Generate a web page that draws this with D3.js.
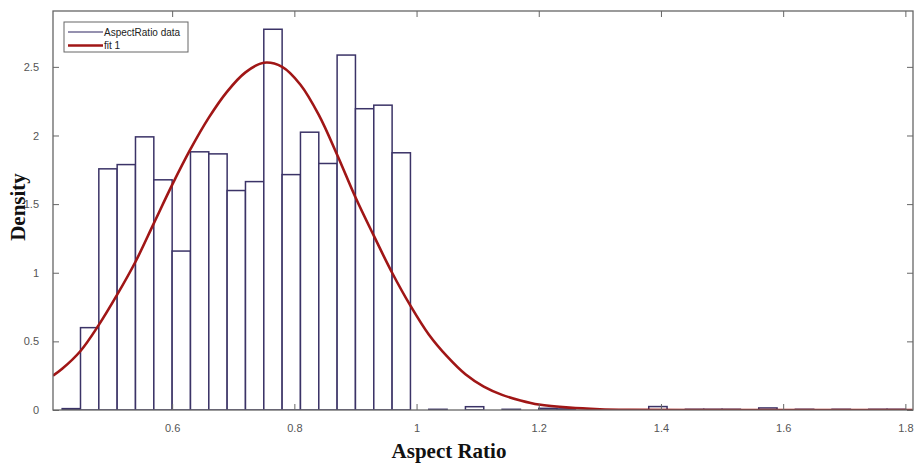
<!DOCTYPE html>
<html>
<head>
<meta charset="utf-8">
<script src="https://cdn.jsdelivr.net/npm/d3@7"></script>
<style>
    body { margin: 0; background: #fff; }
    .axis text { font-family: "Liberation Sans", Arial, sans-serif; font-size: 11px; fill: #555; }
    .axis line { stroke: #666; }
    .axis path { display: none; }
    .axis-title { font-family: "Liberation Serif", "Times New Roman", serif; font-weight: bold; font-size: 21px; fill: #111; }
</style>
</head>
<body>
<svg id="chart"></svg>
<script>
// histogram bins (left edges) and densities
const binStart = 0.42;
const binWidth = 0.03;
const densities = [
    0.01, 0.60, 1.757, 1.788, 1.99, 1.677, 1.158, 1.881, 1.866, 1.599,
    1.664, 2.774, 1.715, 2.024, 1.796, 2.586, 2.195, 2.221, 1.874, 0,
    0.005, 0, 0.024, 0, 0.005, 0, 0.012, 0.008, 0, 0,
    0, 0, 0.025, 0, 0.005, 0.005, 0.005, 0, 0.015, 0,
    0.005, 0, 0.005, 0, 0.005, 0.005
];

// points read along the "fit 1" curve
const fitX = [0.405, 0.42, 0.45, 0.48, 0.51, 0.54, 0.57, 0.60, 0.63, 0.66, 0.69, 0.72, 0.75,
    0.78, 0.81, 0.84, 0.87, 0.90, 0.93, 0.96, 0.99, 1.02, 1.05, 1.08, 1.11, 1.14, 1.17, 1.20,
    1.25, 1.30, 1.35, 1.45, 1.812];
const fitY = [0.25, 0.30, 0.43, 0.62, 0.84, 1.08, 1.36, 1.64, 1.90, 2.13, 2.32, 2.46, 2.53,
    2.50, 2.37, 2.15, 1.86, 1.55, 1.27, 1.00, 0.76, 0.55, 0.39, 0.26, 0.17, 0.11, 0.07, 0.04,
    0.017, 0.006, 0.002, 0, 0];

const xTicks = [0.6, 0.8, 1, 1.2, 1.4, 1.6, 1.8];
const yTicks = [0, 0.5, 1, 1.5, 2, 2.5];
const legendLabels = ['AspectRatio data', 'fit 1'];

const width = 917, height = 466;
const margin = { top: 11, right: 4, bottom: 56, left: 53 };
const innerW = width - margin.left - margin.right;
const innerH = height - margin.top - margin.bottom;

const svg = d3.select('#chart').attr('width', width).attr('height', height);
const chart = svg.append('g').attr('transform', `translate(${margin.left},${margin.top})`);

const xScale = d3.scaleLinear().domain([0.405, 1.8125]).range([0, innerW]);
const yScale = d3.scaleLinear().domain([0, 2.907]).range([innerH, 0]);

svg.append('defs').append('clipPath').attr('id', 'clip')
    .append('rect').attr('width', innerW).attr('height', innerH);

const bins = densities.map((d, i) => ({ x0: binStart + i * binWidth, x1: binStart + (i + 1) * binWidth, v: d }));

const marks = chart.append('g').attr('clip-path', 'url(#clip)');

marks.selectAll('.bar')
    .data(bins)
    .join('rect')
    .attr('class', 'bar')
    .attr('x', d => xScale(d.x0))
    .attr('width', d => xScale(d.x1) - xScale(d.x0))
    .attr('y', d => yScale(d.v))
    .attr('height', d => yScale(0) - yScale(d.v))
    .attr('fill', '#fff')
    .attr('stroke', '#3b3367')
    .attr('stroke-width', 1.5);

const fitData = fitX.map((x, i) => ({ x: x, y: fitY[i] }));
const line = d3.line()
    .x(d => xScale(d.x))
    .y(d => yScale(d.y))
    .curve(d3.curveCatmullRom.alpha(0.5));

marks.append('path')
    .datum(fitData)
    .attr('d', line)
    .attr('fill', 'none')
    .attr('stroke', '#a01616')
    .attr('stroke-width', 2.6);

// axes with inward ticks on all four sides
chart.append('g').attr('class', 'axis')
    .attr('transform', `translate(0,${innerH})`)
    .call(d3.axisBottom(xScale).tickValues(xTicks).tickSize(-6).tickPadding(14).tickFormat(d3.format('')));
chart.append('g').attr('class', 'axis')
    .call(d3.axisTop(xScale).tickValues(xTicks).tickSize(-6).tickFormat(''));
chart.append('g').attr('class', 'axis')
    .call(d3.axisLeft(yScale).tickValues(yTicks).tickSize(-6).tickPadding(14).tickFormat(d3.format('')));
chart.append('g').attr('class', 'axis')
    .attr('transform', `translate(${innerW},0)`)
    .call(d3.axisRight(yScale).tickValues(yTicks).tickSize(-6).tickFormat(''));

chart.append('rect')
    .attr('width', innerW)
    .attr('height', innerH)
    .attr('fill', 'none')
    .attr('stroke', '#666')
    .attr('stroke-width', 1.3);

// axis titles
svg.append('text')
    .attr('class', 'axis-title')
    .attr('text-anchor', 'middle')
    .attr('x', 449)
    .attr('y', 458)
    .text('Aspect Ratio');

svg.append('text')
    .attr('class', 'axis-title')
    .attr('text-anchor', 'middle')
    .attr('transform', 'rotate(-90)')
    .attr('x', -207)
    .attr('y', 25)
    .text('Density');

// legend
const legend = svg.append('g').attr('transform', 'translate(64,22)');
legend.append('rect')
    .attr('width', 124).attr('height', 30)
    .attr('fill', '#fff').attr('stroke', '#666').attr('stroke-width', 1);
const legendStyles = [{ c: '#2d2560', w: 1.2 }, { c: '#a01616', w: 2.6 }];
legendLabels.forEach((lbl, i) => {
    const y = 10 + i * 13.5;
    legend.append('line')
        .attr('x1', 4).attr('x2', 39).attr('y1', y).attr('y2', y)
        .attr('stroke', legendStyles[i].c).attr('stroke-width', legendStyles[i].w);
    legend.append('text')
        .attr('x', 40).attr('y', y + 3.5)
        .attr('font-family', '"Liberation Sans", Arial, sans-serif')
        .attr('font-size', '10px')
        .attr('fill', '#222')
        .text(lbl);
});
</script>
</body>
</html>
